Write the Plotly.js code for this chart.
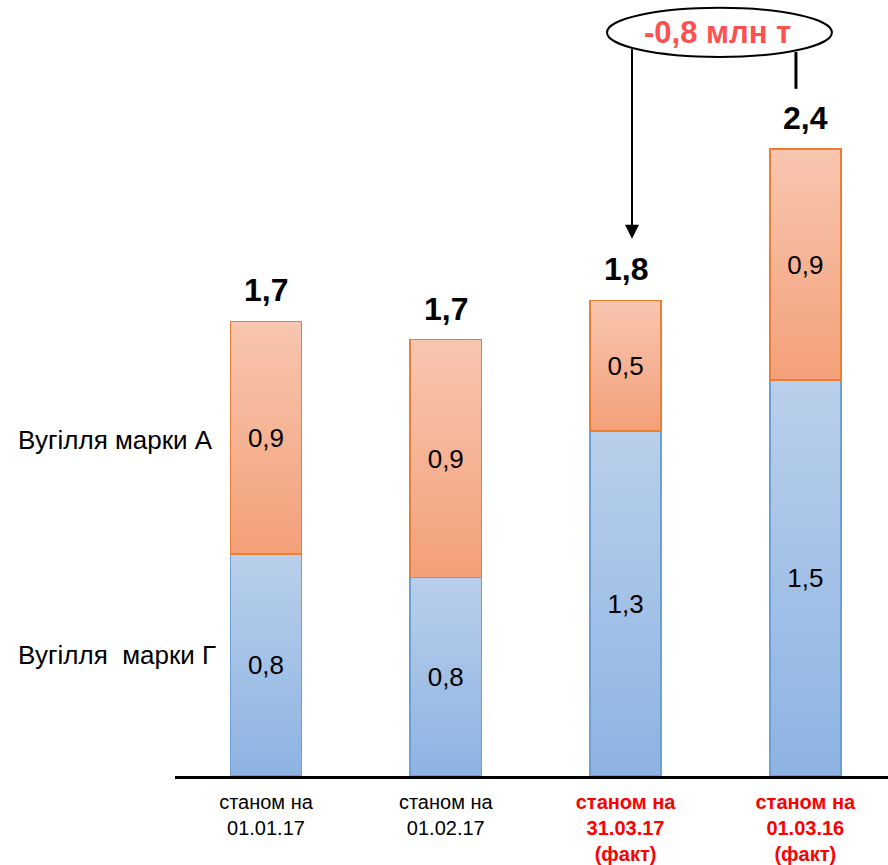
<!DOCTYPE html>
<html>
<head>
<meta charset="utf-8">
<script src="https://cdn.plot.ly/plotly-3.0.1.min.js"></script>
<style>html,body{margin:0;padding:0;background:#fff;}</style>
</head>
<body>
<div id="chart" style="width:888px;height:865px;"></div>
<script>
// ---- data ----
const categories = ['01.01.17', '01.02.17', '31.03.17', '01.03.16'];
const coalG = [0.85, 0.76, 1.32, 1.515];   // Вугілля марки Г (bottom)
const coalA = [0.89, 0.91, 0.50, 0.885];   // Вугілля марки А (top)
const labelsG = ['0,8', '0,8', '1,3', '1,5'];
const labelsA = ['0,9', '0,9', '0,5', '0,9'];
const totalLabels = ['1,7', '1,7', '1,8', '2,4'];
const tickLines = [
  ['станом на', '01.01.17'],
  ['станом на', '01.02.17'],
  ['станом на', '31.03.17', '(факт)'],
  ['станом на', '01.03.16', '(факт)']
];
const tickHighlight = [false, false, true, true];
const seriesNames = ['Вугілля  марки Г', 'Вугілля марки А'];
const diffLabel = '-0,8 млн т';

const FONT = 'Liberation Sans, Arial, sans-serif';

const tickText = tickLines.map((lines, i) => tickHighlight[i]
  ? lines.map(l => `<span style="color:#ff0000"><b>${l}</b></span>`).join('<br>')
  : lines.join('<br>'));

const totals = coalG.map((v, i) => v + coalA[i]);

const traceG = {
  type: 'bar', x: categories, y: coalG, name: seriesNames[0],
  width: 0.395,
  marker: {color: '#a3c0e6', line: {color: '#6a9fd8', width: 1.5}},
  text: labelsG, textposition: 'inside', insidetextanchor: 'middle',
  textangle: 0, constraintext: 'none',
  textfont: {family: FONT, size: 26, color: '#000'},
  hoverinfo: 'skip'
};
const traceA = {
  type: 'bar', x: categories, y: coalA, name: seriesNames[1],
  width: 0.395,
  marker: {color: '#f5b596', line: {color: '#ed7d31', width: 1.5}},
  text: labelsA, textposition: 'inside', insidetextanchor: 'middle',
  textangle: 0, constraintext: 'none',
  textfont: {family: FONT, size: 26, color: '#000'},
  hoverinfo: 'skip'
};

const annotations = categories.map((c, i) => ({
  x: c, y: totals[i], xref: 'x', yref: 'y', yanchor: 'bottom', yshift: 11,
  text: '<b>' + totalLabels[i] + '</b>', showarrow: false,
  font: {family: FONT, size: 32, color: '#000'}
}));
annotations.push(
  {x: -0.284, y: 1.286, xref: 'x', yref: 'y', xanchor: 'right', text: seriesNames[1],
   showarrow: false, font: {family: FONT, size: 26, color: '#000'}},
  {x: -0.267, y: 0.463, xref: 'x', yref: 'y', xanchor: 'right', text: seriesNames[0].replace('  ', ' &nbsp;'),
   showarrow: false, font: {family: FONT, size: 26, color: '#000'}},
  {x: 2.514, y: 2.844, xref: 'x', yref: 'y', text: '<b>' + diffLabel + '</b>',
   showarrow: false, font: {family: FONT, size: 31, color: '#ff5050'}},
  {x: 2.036, y: 2.056, xref: 'x', yref: 'y', ax: 2.036, ay: 2.787, axref: 'x', ayref: 'y',
   text: '', showarrow: true, arrowhead: 2, arrowsize: 1.4, arrowwidth: 2, arrowcolor: '#000'}
);

const shapes = [
  {type: 'circle', xref: 'x', yref: 'y', x0: 1.897, x1: 3.148, y0: 2.752, y1: 2.940,
   line: {color: '#000', width: 2}, fillcolor: 'rgba(0,0,0,0)'},
  {type: 'line', xref: 'x', yref: 'y', x0: 2.948, x1: 2.948, y0: 2.771, y1: 2.630,
   line: {color: '#000', width: 3}}
];

const layout = {
  width: 888, height: 865,
  margin: {l: 175, r: 0, t: 0, b: 89},
  paper_bgcolor: '#fff', plot_bgcolor: '#fff',
  barmode: 'stack', showlegend: false,
  font: {family: FONT, size: 20, color: '#000'},
  xaxis: {
    type: 'category', range: [-0.506, 3.46],
    tickvals: categories, ticktext: tickText,
    showline: true, linecolor: '#000', linewidth: 3,
    ticks: '', showgrid: false, zeroline: false,
    ticklabelstandoff: 6,
    tickfont: {family: FONT, size: 20, color: '#000'},
    fixedrange: true
  },
  yaxis: {range: [0, 2.970], visible: false, showgrid: false, zeroline: false, fixedrange: true},
  annotations: annotations,
  shapes: shapes
};

Plotly.newPlot('chart', [traceG, traceA], layout, {displayModeBar: false, staticPlot: true}).then(gd => {
  const svg = gd.querySelector('.main-svg');
  let defs = svg.querySelector('defs');
  const NS = 'http://www.w3.org/2000/svg';
  function grad(id, c1, c2) {
    const lg = document.createElementNS(NS, 'linearGradient');
    lg.setAttribute('id', id);
    lg.setAttribute('x1', '0'); lg.setAttribute('y1', '0');
    lg.setAttribute('x2', '0'); lg.setAttribute('y2', '1');
    [[0, c1], [1, c2]].forEach(([o, c]) => {
      const s = document.createElementNS(NS, 'stop');
      s.setAttribute('offset', o); s.setAttribute('stop-color', c);
      lg.appendChild(s);
    });
    defs.appendChild(lg);
  }
  grad('gBlue', '#b9cfeb', '#8db3e2');
  grad('gOrange', '#f8c6b0', '#f3a079');
  const traces = gd.querySelectorAll('.barlayer .trace');
  const ids = ['gBlue', 'gOrange'];
  traces.forEach((t, i) => {
    t.querySelectorAll('.point path').forEach(p => { p.style.fill = 'url(#' + ids[i] + ')'; });
  });
});
</script>
</body>
</html>
